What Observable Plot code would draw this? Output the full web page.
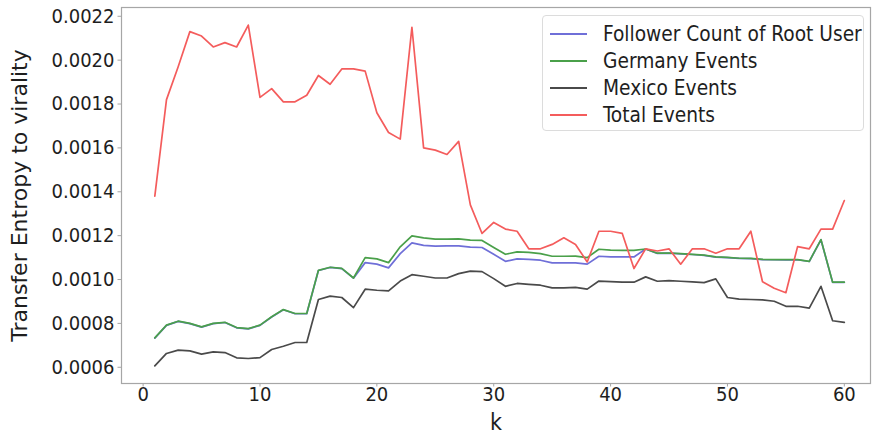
<!DOCTYPE html>
<html>
<head>
<meta charset="utf-8">
<script src="https://cdn.jsdelivr.net/npm/d3@7"></script>
<script src="https://cdn.jsdelivr.net/npm/@observablehq/plot@0.6"></script>
<style>
  body { margin: 0; background: #fff; }
  #chart { position: relative; width: 874px; height: 435px; }
  #chart svg { font-family: "DejaVu Sans Condensed", "DejaVu Sans", sans-serif; }
  .legend {
    position: absolute; left: 542px; top: 15px; width: 322px; height: 116px;
    border: 1px solid #dcdcdc; border-radius: 4px; background: rgba(255,255,255,0.85);
    font-family: "DejaVu Sans Condensed", "DejaVu Sans", sans-serif; font-size: 20.7px; color: #1e1e1e;
    box-sizing: border-box;
  }
  .legend .row { position: absolute; left: 0; height: 0; }
  .legend .swatch { position: absolute; left: 7px; width: 37px; top: -1px; height: 0; border-top: 2px solid; }
  .legend .name { position: absolute; left: 60px; top: -12px; white-space: nowrap; line-height: 24px; }
</style>
</head>
<body>
<div id="chart"></div>
<script>
// lag k
const k = [1, 2, 3, 4, 5, 6, 7, 8, 9, 10, 11, 12, 13, 14, 15, 16, 17, 18, 19, 20,
  21, 22, 23, 24, 25, 26, 27, 28, 29, 30, 31, 32, 33, 34, 35, 36, 37, 38, 39, 40,
  41, 42, 43, 44, 45, 46, 47, 48, 49, 50, 51, 52, 53, 54, 55, 56, 57, 58, 59, 60];

// transfer entropy to virality, one array per source
const followerCount = [
  0.000733, 0.000791, 0.000809, 0.000799, 0.000783, 0.000799, 0.000804, 0.000780, 0.000775, 0.000791,
  0.000829, 0.000862, 0.000844, 0.000844, 0.001041, 0.001055, 0.001050, 0.001006, 0.001077, 0.001070,
  0.001053, 0.001118, 0.001167, 0.001156, 0.001152, 0.001153, 0.001153, 0.001148, 0.001146, 0.001115,
  0.001083, 0.001094, 0.001092, 0.001088, 0.001076, 0.001076, 0.001076, 0.001070, 0.001106, 0.001103,
  0.001103, 0.001103, 0.001139, 0.001119, 0.001120, 0.001117, 0.001114, 0.001110, 0.001102, 0.001100,
  0.001096, 0.001095, 0.001091, 0.001090, 0.001090, 0.001090, 0.001082, 0.001181, 0.000987, 0.000987];

const germanyEvents = [
  0.000734, 0.000792, 0.000810, 0.000800, 0.000784, 0.000800, 0.000805, 0.000781, 0.000776, 0.000792,
  0.000830, 0.000863, 0.000845, 0.000845, 0.001042, 0.001056, 0.001051, 0.001007, 0.001100, 0.001094,
  0.001077, 0.001149, 0.001199, 0.001190, 0.001184, 0.001184, 0.001185, 0.001180, 0.001178, 0.001146,
  0.001115, 0.001126, 0.001124, 0.001118, 0.001106, 0.001106, 0.001107, 0.001100, 0.001138, 0.001134,
  0.001133, 0.001133, 0.001139, 0.001120, 0.001121, 0.001118, 0.001115, 0.001111, 0.001103, 0.001101,
  0.001097, 0.001096, 0.001092, 0.001091, 0.001091, 0.001091, 0.001083, 0.001182, 0.000988, 0.000988];

const mexicoEvents = [
  0.000606, 0.000663, 0.000678, 0.000675, 0.000660, 0.000670, 0.000667, 0.000643, 0.000640, 0.000644,
  0.000681, 0.000696, 0.000713, 0.000713, 0.000909, 0.000924, 0.000918, 0.000872, 0.000956, 0.000951,
  0.000948, 0.000993, 0.001022, 0.001015, 0.001007, 0.001007, 0.001027, 0.001038, 0.001036, 0.001004,
  0.000969, 0.000982, 0.000978, 0.000974, 0.000962, 0.000962, 0.000964, 0.000956, 0.000993, 0.000990,
  0.000988, 0.000988, 0.001012, 0.000992, 0.000995, 0.000992, 0.000989, 0.000986, 0.001003, 0.000918,
  0.000911, 0.000909, 0.000907, 0.000901, 0.000878, 0.000878, 0.000870, 0.000969, 0.000812, 0.000805];

const totalEvents = [
  0.00138, 0.00182, 0.00197, 0.00213, 0.00211, 0.00206, 0.00208, 0.00206, 0.00216, 0.00183,
  0.00187, 0.00181, 0.00181, 0.00184, 0.00193, 0.00189, 0.00196, 0.00196, 0.00195, 0.00176,
  0.00167, 0.00164, 0.00215, 0.00160, 0.00159, 0.00157, 0.00163, 0.00134, 0.00121, 0.00126,
  0.00123, 0.00122, 0.00114, 0.00114, 0.00116, 0.00119, 0.00116, 0.00108, 0.00122, 0.00122,
  0.00121, 0.00105, 0.00114, 0.00113, 0.00114, 0.00107, 0.00114, 0.00114, 0.00112, 0.00114,
  0.00114, 0.00122, 0.00099, 0.00096, 0.00094, 0.00115, 0.00114, 0.00123, 0.00123, 0.00136];

const seriesNames = ["Follower Count of Root User", "Germany Events", "Mexico Events", "Total Events"];
const seriesColors = ["#6f6fd8", "#4aa04a", "#4a4a4a", "#f45c5c"];
const seriesValues = [followerCount, germanyEvents, mexicoEvents, totalEvents];

const xTicks = [0, 10, 20, 30, 40, 50, 60];
const yTicks = [0.0006, 0.0008, 0.0010, 0.0012, 0.0014, 0.0016, 0.0018, 0.0020, 0.0022];

const frameColor = "#a6a6a6";
const textColor = "#1e1e1e";

const lines = seriesValues.map((values, s) =>
  Plot.line(values, {
    x: (d, i) => k[i],
    y: d => d,
    stroke: seriesColors[s],
    strokeWidth: 1.7
  })
);

const chart = Plot.plot({
  width: 874,
  height: 435,
  marginLeft: 121,
  marginRight: 4,
  marginTop: 7,
  marginBottom: 52,
  style: {
    fontSize: "20px",
    fontFamily: "'DejaVu Sans Condensed', 'DejaVu Sans', sans-serif",
    color: textColor,
    background: "#fff",
    overflow: "visible"
  },
  // built-in axes carry only the tick marks; labels are text marks below
  x: { domain: [-1.85, 62.24], ticks: xTicks, tickFormat: () => "", tickSize: 3.5, label: null },
  y: { domain: [0.000526, 0.00224], ticks: yTicks, tickFormat: () => "", tickSize: 3.5, label: null },
  marks: [
    ...lines,
    Plot.frame({ stroke: frameColor, strokeWidth: 1.2 }),
    Plot.text(yTicks, {
      y: d => d, frameAnchor: "left", textAnchor: "end", dx: -7,
      text: d => d3.format(".4f")(d), fontSize: 20, fill: textColor
    }),
    Plot.text(xTicks, {
      x: d => d, frameAnchor: "bottom", lineAnchor: "top", dy: 3.5,
      text: d => String(d), fontSize: 20, fill: textColor
    }),
    Plot.text(["Transfer Entropy to virality"], {
      frameAnchor: "left", textAnchor: "middle", lineAnchor: "middle",
      dx: -102, rotate: -90, fontSize: 22, fontFamily: "'DejaVu Sans', sans-serif", fill: textColor
    }),
    Plot.text(["k"], {
      frameAnchor: "bottom", lineAnchor: "middle", dy: 39, fontSize: 23, fill: textColor
    })
  ]
});

// tick marks take the frame colour
chart.querySelectorAll('[aria-label$="tick"] path, .tick line').forEach(el => {
  el.setAttribute("stroke", frameColor);
});

const root = document.getElementById("chart");
root.appendChild(chart);

// legend box, upper right
const legend = document.createElement("div");
legend.className = "legend";
seriesNames.forEach((name, s) => {
  const row = document.createElement("div");
  row.className = "row";
  row.style.top = (18 + 27 * s) + "px";
  const sw = document.createElement("div");
  sw.className = "swatch";
  sw.style.borderTopColor = seriesColors[s];
  const tx = document.createElement("div");
  tx.className = "name";
  tx.textContent = name;
  row.appendChild(sw);
  row.appendChild(tx);
  legend.appendChild(row);
});
root.appendChild(legend);
</script>
</body>
</html>
